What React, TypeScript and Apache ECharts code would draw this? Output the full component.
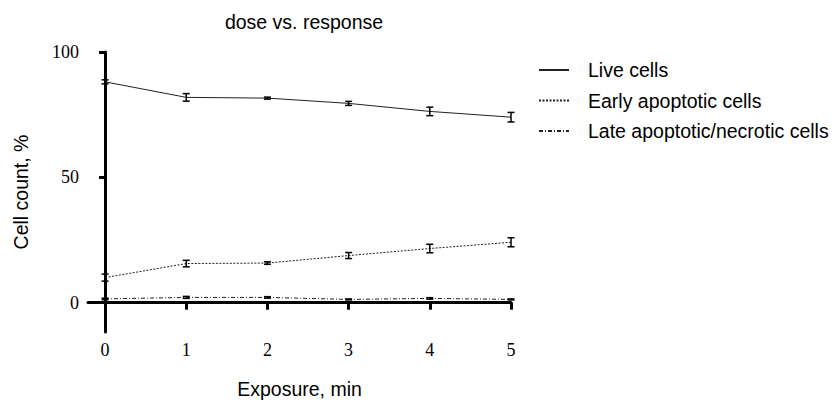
import React, { useEffect, useRef } from "react";
import * as echarts from "echarts";

const exposure = [0, 1, 2, 3, 4, 5];
const seriesNames = ["Live cells", "Early apoptotic cells", "Late apoptotic/necrotic cells"];
const liveMean = [88.1, 81.9, 81.6, 79.5, 76.3, 74.0];
const liveErr = [0.8, 1.5, 0.4, 0.8, 1.7, 1.9];
const earlyMean = [10.0, 15.6, 15.8, 18.8, 21.6, 24.1];
const earlyErr = [1.4, 1.3, 0.5, 1.2, 1.7, 1.8];
const lateMean = [1.5, 2.1, 2.1, 1.3, 1.7, 1.3];
const lateErr = [0.3, 0.4, 0.3, 0.2, 0.3, 0.2];
const yTicks = [0, 50, 100];
const xTicks = [0, 1, 2, 3, 4, 5];

const lineTypes: any[] = ["solid", [2, 1.5], [4, 2, 1, 2]];
const SANS = "Liberation Sans";
const SERIF = "Liberation Serif";

export default function App() {
  const ref = useRef<HTMLDivElement>(null);
  useEffect(() => {
    const chart = echarts.init(ref.current!, null, { renderer: "svg" });
    const means = [liveMean, earlyMean, lateMean];
    const errs = [liveErr, earlyErr, lateErr];
    const lineSeries = means.map((m, i) => ({
      name: seriesNames[i],
      type: "line",
      data: exposure.map((x, j) => [x, m[j]]),
      symbol: "none",
      lineStyle: { color: "#222", width: 1, type: lineTypes[i] },
      itemStyle: { color: "#222" },
      z: 3,
    }));
    const errSeries = means.map((m, i) => ({
      name: seriesNames[i] + " err",
      type: "custom",
      data: exposure.map((x, j) => [x, m[j] - errs[i][j], m[j] + errs[i][j]]),
      renderItem: (params: any, api: any) => {
        const x = api.value(0);
        const lo = api.coord([x, api.value(1)]);
        const hi = api.coord([x, api.value(2)]);
        const w = 3.5;
        const style = { stroke: "#000", lineWidth: 1.5, fill: "none" };
        return {
          type: "group",
          children: [
            { type: "line", shape: { x1: lo[0], y1: lo[1], x2: hi[0], y2: hi[1] }, style },
            { type: "line", shape: { x1: lo[0] - w, y1: lo[1], x2: lo[0] + w, y2: lo[1] }, style },
            { type: "line", shape: { x1: hi[0] - w, y1: hi[1], x2: hi[0] + w, y2: hi[1] }, style },
          ],
        };
      },
      z: 4,
    }));
    chart.setOption({
      animation: false,
      title: {
        text: "dose vs. response",
        left: 299,
        textAlign: "center",
        top: 7,
        textStyle: { fontFamily: SANS, fontSize: 19.5, fontWeight: "normal", color: "#000" },
      },
      legend: {
        data: seriesNames,
        orient: "vertical",
        left: 538,
        top: 60,
        padding: 0,
        itemWidth: 30,
        itemHeight: 20,
        itemGap: 10.5,
        itemStyle: { opacity: 0 },
        textStyle: { fontFamily: SANS, fontSize: 19.5, lineHeight: 20, color: "#000", padding: [0, 0, 0, 14] },
      },
      grid: { left: 88, right: 324, top: 52, bottom: 66 },
      xAxis: {
        type: "value",
        min: -0.21,
        max: 5,
        name: "Exposure, min",
        nameLocation: "middle",
        nameGap: 47,
        nameTextStyle: { fontFamily: SANS, fontSize: 19.5, color: "#000" },
        axisLine: { lineStyle: { color: "#000", width: 3 } },
        axisTick: { customValues: xTicks, length: 7, lineStyle: { color: "#000", width: 3 } },
        axisLabel: { customValues: xTicks, fontFamily: SERIF, fontSize: 18, color: "#000", margin: 9 },
        splitLine: { show: false },
      },
      yAxis: {
        type: "value",
        min: -11.7,
        max: 100,
        name: "Cell count, %",
        nameLocation: "middle",
        nameGap: 57,
        nameRotate: 90,
        nameTextStyle: { fontFamily: SANS, fontSize: 19.5, color: "#000" },
        axisLine: { show: true, lineStyle: { color: "#000", width: 3 } },
        axisTick: { show: true, customValues: yTicks, length: 6, lineStyle: { color: "#000", width: 3 } },
        axisLabel: { customValues: yTicks, fontFamily: SERIF, fontSize: 18, color: "#000", margin: 9 },
        splitLine: { show: false },
      },
      series: [...lineSeries, ...errSeries],
    });
    return () => chart.dispose();
  }, []);
  return <div ref={ref} style={{ width: 835, height: 404, position: "absolute", left: 0, top: 0 }} />;
}
